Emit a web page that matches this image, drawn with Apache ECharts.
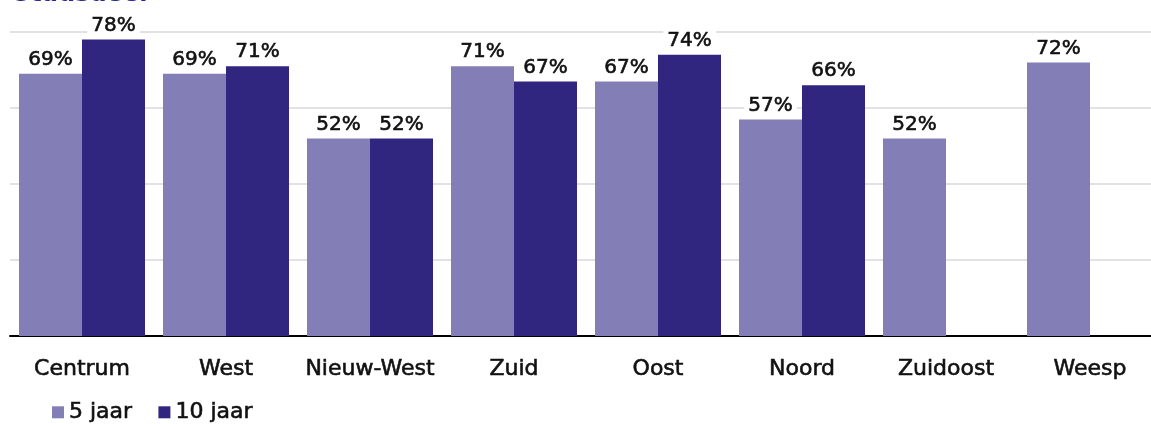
<!DOCTYPE html>
<html>
<head>
<meta charset="utf-8">
<script src="https://cdn.jsdelivr.net/npm/echarts@6/dist/echarts.min.js"></script>
<style>
html, body { margin: 0; padding: 0; background: #fff; }
#chart { width: 1151px; height: 424px; }
</style>
</head>
<body>
<div id="chart"></div>
<script>
var stadsdelen = ['Centrum', 'West', 'Nieuw-West', 'Zuid', 'Oost', 'Noord', 'Zuidoost', 'Weesp'];
var vijfJaar = [69, 69, 52, 71, 67, 57, 52, 72];
var tienJaar = [78, 71, 52, 67, 74, 66, null, null];
var seriesNames = ['5 jaar', '10 jaar'];

var fontName = '"DejaVu Sans", sans-serif';

function labelStyle() {
	return {
		show: true,
		position: 'top',
		distance: 3,
		formatter: '{c}%',
		color: '#111111',
		fontSize: 20,
		fontFamily: fontName,
		textBorderColor: '#111111',
		textBorderWidth: 0.6,
		backgroundColor: '#ffffff',
		padding: [1, 4]
	};
}

var myChart = echarts.init(document.getElementById('chart'));
var option = {
	animation: false,
	title: {
		text: 'Stadsdeel',
		left: 8,
		top: -22,
		textStyle: {
			color: '#2b2a8f',
			fontSize: 24,
			fontWeight: 'bold',
			fontFamily: fontName
		}
	},
	color: ['#837eb5', '#31267f'],
	legend: {
		data: seriesNames,
		left: 47,
		top: 396,
		icon: 'rect',
		itemWidth: 12,
		itemHeight: 12,
		itemGap: 26,
		textStyle: {
			color: '#111111',
			fontSize: 22,
			fontFamily: fontName,
			textBorderColor: '#111111',
			textBorderWidth: 0.6
		}
	},
	grid: {
		left: 10,
		width: 1152,
		top: 32,
		bottom: 88,
		outerBoundsMode: 'none'
	},
	xAxis: {
		type: 'category',
		data: stadsdelen,
		axisLine: {
			lineStyle: { color: '#000000', width: 2 }
		},
		axisTick: { show: false },
		axisLabel: {
			margin: 22,
			color: '#111111',
			fontSize: 22,
			fontFamily: fontName,
			textBorderColor: '#111111',
			textBorderWidth: 0.6,
			interval: 0
		}
	},
	yAxis: {
		type: 'value',
		min: 0,
		max: 80,
		interval: 20,
		axisLabel: { show: false },
		axisLine: { show: false },
		axisTick: { show: false },
		splitLine: {
			lineStyle: { color: '#d9d9d9', width: 1.5 }
		}
	},
	series: [{
		name: seriesNames[0],
		type: 'bar',
		barGap: '0%',
		barCategoryGap: '12.5%',
		label: labelStyle(),
		data: vijfJaar
	}, {
		name: seriesNames[1],
		type: 'bar',
		label: labelStyle(),
		data: tienJaar
	}]
};
myChart.setOption(option);
</script>
</body>
</html>
